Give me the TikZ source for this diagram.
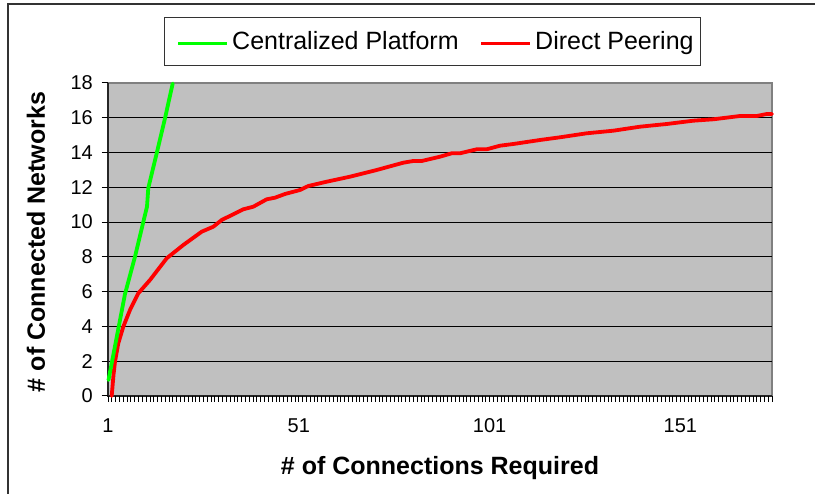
\documentclass[tikz,border=0pt]{standalone}
\usepackage{fontspec}
\setmainfont{Liberation Sans}
\definecolor{plotgray}{HTML}{C0C0C0}
\definecolor{bordergray}{HTML}{808080}
\definecolor{xlgreen}{HTML}{00FF00}
\definecolor{xlred}{HTML}{FF0000}
\tikzset{
  ticklabel/.style={inner sep=0pt, font=\fontsize{20}{24}\selectfont},
  axistitle/.style={inner sep=0pt, font=\fontsize{25}{30}\selectfont\bfseries},
  legendtext/.style={inner sep=0pt, anchor=base west, font=\fontsize{25}{30}\selectfont},
  series/.style={line width=3.8pt, line join=round, line cap=round},
  gridline/.style={line width=1.1pt, black},
}
\begin{document}
\begin{tikzpicture}[x=1pt,y=-1pt]
\useasboundingbox (0,0) rectangle (815,494);
% outer frame
\draw[line width=1.2pt, black!80] (8,494) -- (8,4) -- (815,4);
% plot area
\fill[plotgray] (108,83) rectangle (772,396);
\draw[bordergray, line width=2pt] (108,83) -- (772,83) -- (772,396);
\foreach \v in {2,4,...,16} {
  \draw[gridline] (108,{396-\v*17.389}) -- (772,{396-\v*17.389});
}
% axes
\draw[line width=1.2pt, black!85] (108,83) -- (108,396) -- (772,396);
\foreach \v in {0,2,...,18} {
  \draw[line width=1pt] (101.5,{396-\v*17.389}) -- (108,{396-\v*17.389});
  \node[ticklabel, anchor=east] (yl\v) at (93,{396-\v*17.389}) {\v};
}
\foreach \i in {0,...,174} {
  \draw[line width=0.8pt] ({108+\i*3.8161},396) -- ({108+\i*3.8161},402.5);
}
\foreach \c in {1,51,101,151} {
  \node[ticklabel, anchor=center] (xl\c) at ({108+(\c-1)*3.8161},425.5) {\c};
}
% axis titles
\node[axistitle] (xtitle) at (440,468) {\# of Connections Required};
\node[axistitle, rotate=90] (ytitle) at (36,242) {\# of Connected Networks};
% series
\draw[series, xlred] (111.7,396) -- (113.5,375) -- (115,361.7) -- (118.3,343.3) -- (123.3,326.7) -- (130,310) -- (138.3,293.3) -- (150,280) -- (166.7,258.3) -- (183.3,245) -- (201.7,231.7) -- (213.3,226.7) -- (221.7,220) -- (243.3,209.3) -- (253.3,206.7) -- (266.7,199.3) -- (275,197.7) -- (285,194) -- (300,190) -- (308.3,186) -- (326.7,181.7) -- (350,176.7) -- (376.7,170) -- (403.3,162.7) -- (413.3,161) -- (421.7,161) -- (440,156.7) -- (451.7,153.3) -- (460,153.3) -- (476.7,149.3) -- (486.7,149.3) -- (500,145.7) -- (513.3,144) -- (540,140) -- (560,137.3) -- (586.7,133.3) -- (613.3,130.7) -- (640,126.7) -- (666.7,124) -- (693.3,120.7) -- (713.3,119.3) -- (740,116) -- (756.7,116) -- (766.7,114) -- (772,114);
\draw[series, xlgreen] (108.5,380) -- (125,294) -- (135,256.7) -- (144.5,217) -- (147,206.7) -- (148.3,188) -- (156.7,153.3) -- (165,118.3) -- (172.7,83.5);
% legend
\node[draw=black!80, line width=1pt, minimum width=536pt, minimum height=48pt, inner sep=0pt] (legend) at (432,42) {};
\coordinate (ga) at (178,43.5);
\coordinate (gb) at (227,43.5);
\coordinate (ra) at (481,43.5);
\coordinate (rb) at (530,43.5);
\draw[series, xlgreen, line cap=butt] (ga) -- (gb);
\draw[series, xlred, line cap=butt] (ra) -- (rb);
\node[legendtext] (lg) at (232,50) {Centralized Platform};
\node[legendtext] (lr) at (535,50) {Direct Peering};
\end{tikzpicture}
\end{document}
